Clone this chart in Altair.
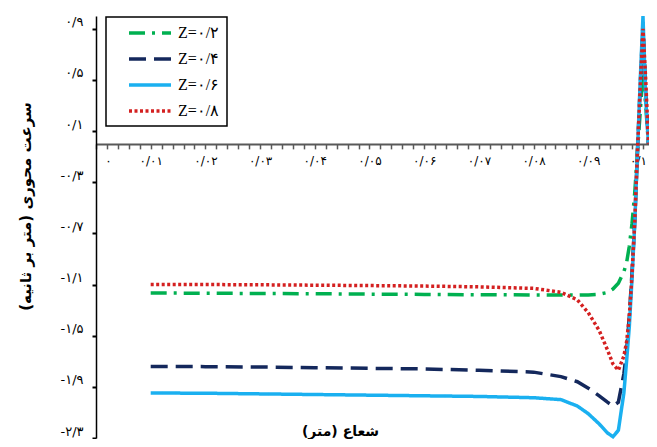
import json
import altair as alt
import pandas as pd

# radius (m)
r = [0.01, 0.02, 0.03, 0.04, 0.05, 0.06, 0.07, 0.08, 0.085, 0.088, 0.09, 0.092,
     0.0935, 0.0945, 0.0955, 0.0965, 0.097, 0.0975, 0.098, 0.0985, 0.099, 0.0995,
     0.1, 0.1005, 0.101]

z02 = [-1.166, -1.168, -1.170, -1.172, -1.175, -1.177, -1.180, -1.181, -1.182, -1.183,
       -1.181, -1.176, -1.162, -1.135, -1.09, -1.0, -0.93, -0.8, -0.62, -0.38, -0.05,
       0.25, 0.58, 0.3, 0.0]
z04 = [-1.740, -1.742, -1.745, -1.750, -1.755, -1.760, -1.770, -1.785, -1.82, -1.86,
       -1.91, -1.97, -2.02, -2.05, -2.02, -1.8, -1.62, -1.35, -1.0, -0.6, -0.05,
       0.45, 0.95, 0.4, 0.0]
z06 = [-1.948, -1.950, -1.955, -1.960, -1.965, -1.970, -1.975, -1.985, -2.00, -2.05,
       -2.11, -2.19, -2.26, -2.29, -2.24, -1.95, -1.7, -1.43, -1.05, -0.62, -0.05,
       0.5, 1.0, 0.35, 0.0]
z08 = [-1.100, -1.100, -1.102, -1.105, -1.108, -1.112, -1.118, -1.13, -1.16, -1.22,
       -1.32, -1.46, -1.61, -1.72, -1.77, -1.66, -1.55, -1.35, -1.02, -0.6, -0.05,
       0.45, 0.9, 0.5, 0.0]

series_names = ["Z=۰/۲", "Z=۰/۴", "Z=۰/۶", "Z=۰/۸"]
series_values = [z02, z04, z06, z08]
colors = ["#00B050", "#14285C", "#1AB0F0", "#D42020"]
dashes = [[16, 7, 3, 7], [17, 8], [1, 0], [3, 2.5]]
widths = [3.5, 3.5, 3, 2.5]

y_ticks = [-2.3, -1.9, -1.5, -1.1, -0.7, -0.3, 0.1, 0.5, 0.9]
y_tick_labels = ["-۲/۳", "-۱/۹", "-۱/۵", "-۱/۱", "-۰/۷", "-۰/۳", "۰/۱", "۰/۵", "۰/۹"]

x_major_labels = ["۰", "۰/۰۱", "۰/۰۲", "۰/۰۳", "۰/۰۴", "۰/۰۵",
                  "۰/۰۶", "۰/۰۷", "۰/۰۸", "۰/۰۹", "۰/۱"]
x_minor_ticks = [round(i * 0.002, 4) for i in range(51)]
x_label_list = []
for i in range(51):
    x_label_list.append(x_major_labels[i // 5] if i % 5 == 0 else "")

rows = []
for name, vals in zip(series_names, series_values):
    for rv, v in zip(r, vals):
        rows.append({"r": rv, "v": v, "series": name})
df = pd.DataFrame(rows)

H = 422
W = 553
y0_px = 1.0 / 3.3 * H  # pixel of y=0 from top

y_expr = json.dumps(y_tick_labels, ensure_ascii=False) + "[round((datum.value+2.3)/0.4)]"
x_expr = json.dumps(x_label_list, ensure_ascii=False) + "[round(datum.value*500)]"

chart = alt.Chart(df).mark_line(clip=False).encode(
    x=alt.X("r:Q", scale=alt.Scale(domain=[0, 0.1011], nice=False, zero=False),
            axis=alt.Axis(values=x_minor_ticks, labelExpr=x_expr, grid=False,
                          offset=-(H - y0_px), domainColor="#595959", domainWidth=2,
                          tickColor="#595959", tickWidth=1.5, tickSize=5,
                          labelFont="DejaVu Sans", labelFontSize=12, labelColor="black",
                          labelPadding=7, labelOverlap=False, labelFlush=False,
                          labelOffset={"condition": [
                              {"test": "datum.value == 0", "value": 12},
                              {"test": "datum.value > 0.0999", "value": -5}],
                              "value": 0},
                          title="شعاع (متر)", titleFont="DejaVu Sans", titleFontSize=14,
                          titleFontWeight="bold", titleColor="black",
                          titleX=244, titleY=288, titleBaseline="middle")),
    y=alt.Y("v:Q", scale=alt.Scale(domain=[-2.3, 1.0], nice=False, zero=False),
            axis=alt.Axis(values=y_ticks, labelExpr=y_expr, grid=False,
                          domainColor="black", domainWidth=1.5, tickColor="black",
                          tickWidth=2, tickSize=4, labelFont="DejaVu Sans",
                          labelFontSize=13, labelColor="black", labelPadding=9,
                          labelOffset=-7,
                          title="سرعت محوری (متر بر ثانیه)", titleFont="DejaVu Sans",
                          titleFontSize=15, titleFontWeight="bold", titleColor="black",
                          titleX=-71, titleY=190, titleBaseline="middle")),
    color=alt.Color("series:N", scale=alt.Scale(domain=series_names, range=colors),
                    legend=alt.Legend(title=None, orient="none", legendX=10, legendY=1,
                                      strokeColor="black", fillColor="white",
                                      padding=7, symbolType="M-3,0H3", symbolSize=196,
                                      symbolOffset=28, symbolStrokeWidth=3.5,
                                      labelFont="Liberation Serif", labelFontSize=16,
                                      labelColor="black", rowPadding=9, labelOffset=19)),
    strokeDash=alt.StrokeDash("series:N", scale=alt.Scale(domain=series_names, range=dashes),
                              legend=None),
    strokeWidth=alt.StrokeWidth("series:N", scale=alt.Scale(domain=series_names, range=widths),
                                legend=None),
).properties(
    width=W, height=H,
    autosize=alt.AutoSizeParams(type="none"),
    padding={"left": 88, "top": 8, "right": 0, "bottom": 1},
).configure_view(stroke=None).configure_legend(strokeWidth=1.5)

chart.save("out.html", embed_options={"renderer": "svg", "actions": False})
